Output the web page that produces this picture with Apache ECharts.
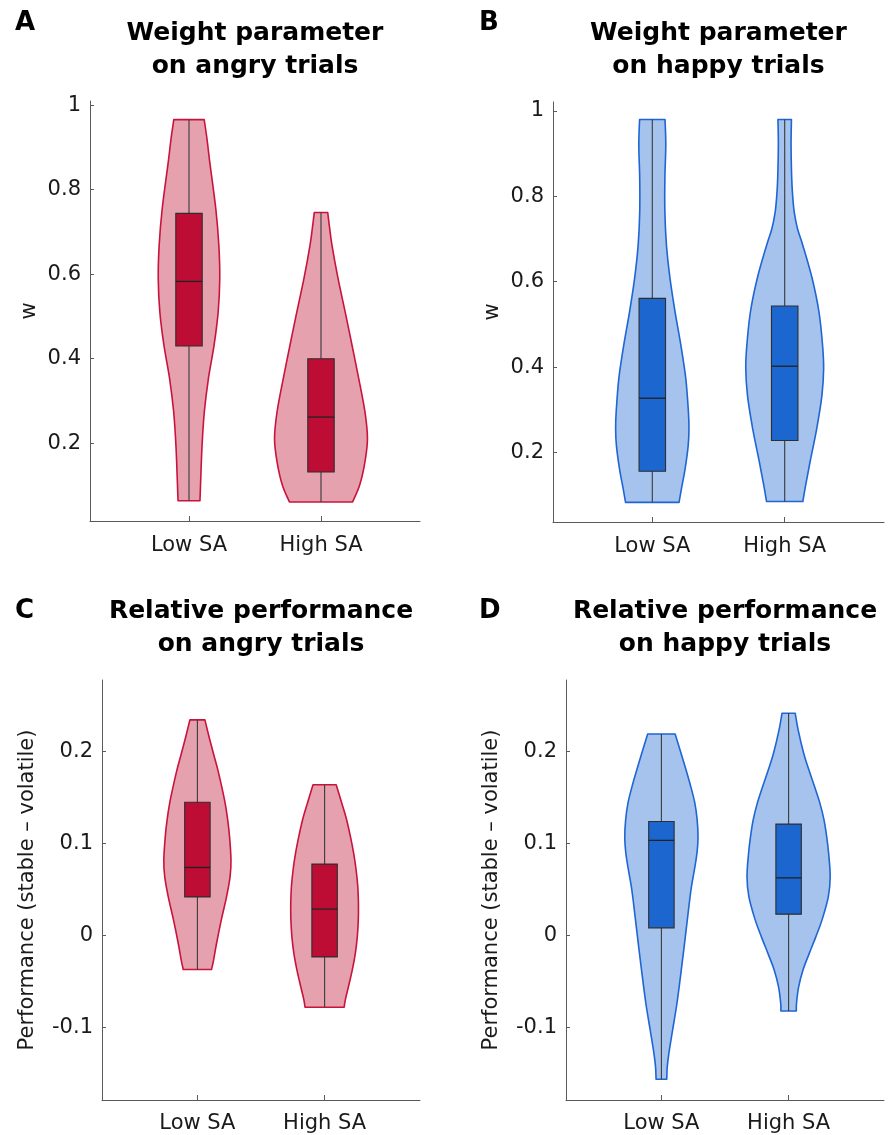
<!DOCTYPE html>
<html><head><meta charset="utf-8">
<script src="https://cdn.jsdelivr.net/npm/echarts@6/dist/echarts.min.js"></script>
<style>html,body{margin:0;padding:0;background:#fff}#c{width:893px;height:1135px}</style>
</head><body><div id="c"></div>
<script>
// ---------- data ----------
const categories = ['Low SA', 'High SA'];
const categoryPositions = [1, 2];

const panelLetters = ['A', 'B', 'C', 'D'];
const panelTitles = [
  'Weight parameter\non angry trials',
  'Weight parameter\non happy trials',
  'Relative performance\non angry trials',
  'Relative performance\non happy trials'
];
const yNameW = 'w';
const yNameP = 'Performance (stable \u2013 volatile)';

const yTicksW = [0.2, 0.4, 0.6, 0.8, 1];
const yTickLabelsW = ['0.2', '0.4', '0.6', '0.8', '1'];
const yTicksP = [-0.1, 0, 0.1, 0.2];
const yTickLabelsP = ['-0.1', '0', '0.1', '0.2'];

const yRangeA = [0.016, 1.010];
const yRangeB = [0.037, 1.021];
const yRangeC = [-0.179, 0.278];
const yRangeD = [-0.179, 0.278];

// violin profiles: [value, half-width (in category units)], bottom -> top
const angryW_low_violin = [[0.064,0.083],[0.116,0.089],[0.195,0.099],[0.274,0.116],[0.353,0.147],[0.432,0.190],[0.511,0.221],[0.590,0.233],[0.669,0.226],[0.755,0.203],[0.866,0.157],[0.921,0.136],[0.966,0.115]];
const angryW_high_violin = [[0.061,0.239],[0.101,0.293],[0.156,0.333],[0.211,0.352],[0.274,0.333],[0.353,0.286],[0.432,0.235],[0.511,0.183],[0.590,0.129],[0.669,0.083],[0.708,0.066],[0.746,0.051]];
const happyW_low_violin = [[0.083,0.202],[0.115,0.220],[0.162,0.248],[0.216,0.271],[0.256,0.277],[0.294,0.273],[0.373,0.253],[0.451,0.216],[0.529,0.172],[0.607,0.134],[0.685,0.107],[0.763,0.095],[0.842,0.095],[0.920,0.102],[0.980,0.096]];
const happyW_high_violin = [[0.085,0.137],[0.123,0.158],[0.177,0.191],[0.256,0.242],[0.333,0.281],[0.396,0.294],[0.451,0.286],[0.529,0.259],[0.607,0.208],[0.685,0.137],[0.724,0.097],[0.763,0.072],[0.802,0.060],[0.842,0.053],[0.920,0.048],[0.980,0.051]];
const angryP_low_violin = [[-0.037,0.111],[-0.027,0.127],[-0.009,0.150],[0.017,0.188],[0.042,0.229],[0.064,0.257],[0.082,0.264],[0.107,0.253],[0.126,0.238],[0.144,0.218],[0.162,0.191],[0.180,0.161],[0.198,0.126],[0.216,0.092],[0.2346,0.059]];
const angryP_high_violin = [[-0.078,0.154],[-0.070,0.163],[-0.056,0.187],[-0.038,0.217],[-0.020,0.241],[-0.0015,0.257],[0.017,0.265],[0.035,0.266],[0.053,0.261],[0.071,0.248],[0.089,0.229],[0.107,0.204],[0.126,0.173],[0.144,0.135],[0.164,0.091]];
const happyP_low_violin = [[-0.1565,0.042],[-0.143,0.046],[-0.129,0.058],[-0.103,0.088],[-0.074,0.122],[-0.038,0.156],[-0.0015,0.188],[0.035,0.219],[0.053,0.236],[0.071,0.259],[0.089,0.279],[0.107,0.288],[0.126,0.281],[0.144,0.263],[0.162,0.231],[0.180,0.194],[0.198,0.155],[0.2193,0.108]];
const happyP_high_violin = [[-0.0821,0.061],[-0.074,0.062],[-0.056,0.079],[-0.038,0.112],[-0.020,0.161],[-0.0015,0.214],[0.017,0.263],[0.042,0.312],[0.064,0.327],[0.089,0.315],[0.107,0.300],[0.126,0.278],[0.144,0.246],[0.162,0.204],[0.180,0.160],[0.198,0.119],[0.2237,0.075],[0.2418,0.052]];

// box stats: [min, q1, median, q3, max]
const angryW_low_box = [0.064, 0.430, 0.583, 0.744, 0.966];
const angryW_high_box = [0.061, 0.132, 0.262, 0.400, 0.746];
const happyW_low_box = [0.083, 0.156, 0.327, 0.561, 0.980];
const happyW_high_box = [0.085, 0.228, 0.402, 0.543, 0.980];
const angryP_low_box = [-0.037, 0.042, 0.074, 0.145, 0.2346];
const angryP_high_box = [-0.078, -0.0233, 0.0287, 0.0777, 0.164];
const happyP_low_box = [-0.1565, 0.0083, 0.1035, 0.124, 0.2193];
const happyP_high_box = [-0.0821, 0.0232, 0.0627, 0.1212, 0.2418];

// ---------- styles ----------
const FONT = 'DejaVu Sans';
const themes = {
  red:  { fill: '#e6a1af', stroke: '#c8143c', box: '#bd0d35' },
  blue: { fill: '#a5c3ec', stroke: '#1f66d4', box: '#1c66cf' }
};
const BOX_HALF = 0.1;

const panels = [
  { grid: { left: 90, top: 101, width: 330, height: 420 }, yRange: yRangeA, ticks: yTicksW, tickLabels: yTickLabelsW, yName: yNameW, nameGap: 50, xMargin: 14,
    violins: [angryW_low_violin, angryW_high_violin], boxes: [angryW_low_box, angryW_high_box], theme: 'red' },
  { grid: { left: 553, top: 102, width: 331, height: 420 }, yRange: yRangeB, ticks: yTicksW, tickLabels: yTickLabelsW, yName: yNameW, nameGap: 50, xMargin: 14,
    violins: [happyW_low_violin, happyW_high_violin], boxes: [happyW_low_box, happyW_high_box], theme: 'blue' },
  { grid: { left: 102, top: 680, width: 318, height: 420 }, yRange: yRangeC, ticks: yTicksP, tickLabels: yTickLabelsP, yName: yNameP, nameGap: 64, xMargin: 13,
    violins: [angryP_low_violin, angryP_high_violin], boxes: [angryP_low_box, angryP_high_box], theme: 'red' },
  { grid: { left: 566, top: 680, width: 318, height: 420 }, yRange: yRangeD, ticks: yTicksP, tickLabels: yTickLabelsP, yName: yNameP, nameGap: 64, xMargin: 13,
    violins: [happyP_low_violin, happyP_high_violin], boxes: [happyP_low_box, happyP_high_box], theme: 'blue' }
];

function crSegments(pts) {
  let d = '';
  const n = pts.length;
  for (let i = 0; i < n - 1; i++) {
    const p0 = pts[Math.max(i - 1, 0)], p1 = pts[i], p2 = pts[i + 1], p3 = pts[Math.min(i + 2, n - 1)];
    const c1 = [p1[0] + (p2[0] - p0[0]) / 6, p1[1] + (p2[1] - p0[1]) / 6];
    const c2 = [p2[0] - (p3[0] - p1[0]) / 6, p2[1] - (p3[1] - p1[1]) / 6];
    d += 'C' + c1[0].toFixed(2) + ',' + c1[1].toFixed(2) + ' ' + c2[0].toFixed(2) + ',' + c2[1].toFixed(2) + ' ' + p2[0].toFixed(2) + ',' + p2[1].toFixed(2);
  }
  return d;
}

const grids = [], xAxes = [], yAxes = [], series = [], titles = [];
const AXIS_COLOR = '#5a5a5a';
const TEXT_COLOR = '#1a1a1a';

panels.forEach((p, i) => {
  grids.push(Object.assign({}, p.grid));
  const th = themes[p.theme];
  xAxes.push({
    gridIndex: i, type: 'value', min: 0.25, max: 2.75,
    axisLine: { show: true, onZero: false, lineStyle: { color: AXIS_COLOR, width: 1 } },
    axisTick: { show: true, inside: true, length: 5, customValues: categoryPositions, lineStyle: { color: AXIS_COLOR } },
    axisLabel: { show: true, customValues: categoryPositions, fontSize: 21, fontFamily: FONT, color: TEXT_COLOR, margin: p.xMargin,
      formatter: v => categories[Math.round(v) - 1] },
    splitLine: { show: false }
  });
  yAxes.push({
    gridIndex: i, type: 'value', min: p.yRange[0], max: p.yRange[1],
    name: p.yName, nameLocation: 'middle', nameGap: p.nameGap,
    nameTextStyle: { fontSize: 21, fontFamily: FONT, color: TEXT_COLOR },
    axisLine: { show: true, onZero: false, lineStyle: { color: AXIS_COLOR, width: 1 } },
    axisTick: { show: true, inside: true, length: 4, customValues: p.ticks, lineStyle: { color: AXIS_COLOR } },
    axisLabel: { show: true, customValues: p.ticks, fontSize: 21, fontFamily: FONT, color: TEXT_COLOR, margin: 9,
      formatter: v => { const k = p.ticks.findIndex(t => Math.abs(t - v) < 1e-9); return k >= 0 ? p.tickLabels[k] : ''; } },
    splitLine: { show: false }
  });

  // violins
  series.push({
    type: 'custom', xAxisIndex: i, yAxisIndex: i, silent: true, z: 2,
    data: categoryPositions.map((c, k) => [c, p.boxes[k][0], p.boxes[k][4]]),
    renderItem: (params, api) => {
      const cx = api.value(0);
      const prof = p.violins[params.dataIndex];
      const left = prof.map(q => api.coord([cx - q[1], q[0]]));
      const right = prof.slice().reverse().map(q => api.coord([cx + q[1], q[0]]));
      const d = 'M' + left[0][0] + ',' + left[0][1] + crSegments(left) +
                'L' + right[0][0] + ',' + right[0][1] + crSegments(right) + 'Z';
      return { type: 'path', shape: { pathData: d },
        style: { fill: th.fill, stroke: th.stroke, lineWidth: 1.6, lineJoin: 'round' } };
    }
  });
  // boxes
  series.push({
    type: 'custom', xAxisIndex: i, yAxisIndex: i, silent: true, z: 3,
    data: categoryPositions.map((c, k) => [c].concat(p.boxes[k])),
    renderItem: (params, api) => {
      const cx = api.value(0);
      const mn = api.value(1), q1 = api.value(2), md = api.value(3), q3 = api.value(4), mx = api.value(5);
      const wTop = api.coord([cx, mx]), wBot = api.coord([cx, mn]);
      const tl = api.coord([cx - BOX_HALF, q3]), br = api.coord([cx + BOX_HALF, q1]);
      const ml = api.coord([cx - BOX_HALF, md]), mr = api.coord([cx + BOX_HALF, md]);
      return { type: 'group', children: [
        { type: 'line', shape: { x1: wTop[0], y1: wTop[1], x2: wBot[0], y2: wBot[1] }, style: { stroke: '#3a3a3a', lineWidth: 1.1 } },
        { type: 'rect', shape: { x: tl[0], y: tl[1], width: br[0] - tl[0], height: br[1] - tl[1] },
          style: { fill: th.box, stroke: '#2e2e2e', lineWidth: 1.1 } },
        { type: 'line', shape: { x1: ml[0], y1: ml[1], x2: mr[0], y2: mr[1] }, style: { stroke: '#222', lineWidth: 1.3 } }
      ] };
    }
  });

  titles.push({
    text: panelTitles[i], left: p.grid.left + p.grid.width / 2, top: i < 2 ? 17 : 595, textAlign: 'center', padding: 0,
    textStyle: { fontSize: 25, fontWeight: 'bold', fontFamily: FONT, color: '#000', lineHeight: 33 }
  });
  titles.push({
    text: panelLetters[i], left: [15, 479, 15, 479][i], top: i < 2 ? 10 : 598, padding: 0,
    textStyle: { fontSize: 26, fontWeight: 'bold', fontFamily: FONT, color: '#000', lineHeight: 26 }
  });
});

const chart = echarts.init(document.getElementById('c'), null, { renderer: 'canvas' });
chart.setOption({
  backgroundColor: '#ffffff',
  animation: false,
  textStyle: { fontFamily: FONT },
  title: titles,
  grid: grids,
  xAxis: xAxes,
  yAxis: yAxes,
  series: series
});
</script>
</body></html>
